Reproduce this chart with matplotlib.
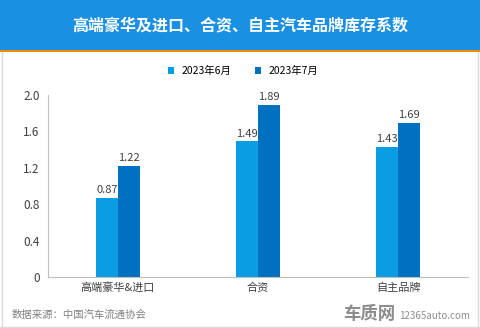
import matplotlib.pyplot as plt
from matplotlib.patches import Rectangle
from matplotlib.lines import Line2D

plt.rcParams['font.family'] = ['Noto Sans CJK SC', 'DejaVu Sans']

categories = ['高端豪华&进口', '合资', '自主品牌']
series_names = ['2023年6月', '2023年7月']
june = [0.87, 1.49, 1.43]
july = [1.22, 1.89, 1.69]
yticks = [0, 0.4, 0.8, 1.2, 1.6, 2.0]
ytick_labels = ['0', '0.4', '0.8', '1.2', '1.6', '2.0']

c_june = '#0a9de3'
c_july = '#0070c0'

fig = plt.figure(figsize=(4.8, 3.28), dpi=100)
fig.patch.set_facecolor('white')

# header band with orange underline
fig.patches.append(Rectangle((0, 1 - 50 / 328), 1, 50 / 328, transform=fig.transFigure,
                             facecolor='#1a90e2', edgecolor='none', zorder=0))
fig.patches.append(Rectangle((0, 1 - 52 / 328), 1, 2.5 / 328, transform=fig.transFigure,
                             facecolor='#f28a00', edgecolor='none', zorder=1))
fig.text(0.5, 1 - 25 / 328, '高端豪华及进口、合资、自主汽车品牌库存系数', ha='center', va='center',
         color='white', fontsize=11.5, fontweight='bold')

# light frame around the body
for xs, ys in [([1.5 / 480, 1.5 / 480], [0, 1 - 52 / 328]),
               ([478 / 480, 478 / 480], [0, 1 - 52 / 328]),
               ([0, 1], [1.5 / 328, 1.5 / 328])]:
    fig.add_artist(Line2D(xs, ys, color='#d9d9d9', lw=1, transform=fig.transFigure))

ax = fig.add_axes([48 / 480, 51 / 328, 420 / 480, 182 / 328])
x = range(len(categories))
w = 0.16
b1 = ax.bar([i - w / 2 for i in x], june, width=w, color=c_june, label=series_names[0])
b2 = ax.bar([i + w / 2 for i in x], july, width=w, color=c_july, label=series_names[1])
for bars in (b1, b2):
    for r in bars:
        ax.text(r.get_x() + r.get_width() / 2, r.get_height() + 0.03, f'{r.get_height():.2f}',
                ha='center', va='bottom', fontsize=8, color='#404040')

ax.set_xlim(-0.5, 2.5)
ax.set_ylim(0, 2.0)
ax.set_yticks(yticks)
ax.set_yticklabels(ytick_labels)
ax.set_xticks(list(x))
ax.set_xticklabels(categories)
ax.tick_params(axis='both', length=0, labelsize=8, colors='#404040')
ax.tick_params(axis='y', pad=6, labelsize=8.5)
ax.tick_params(axis='x', pad=4)
for s in ('top', 'right'):
    ax.spines[s].set_visible(False)
for s in ('left', 'bottom'):
    ax.spines[s].set_color('#bfbfbf')
    ax.spines[s].set_linewidth(0.8)

fig.legend(handles=[b1, b2], labels=series_names, loc='center',
           bbox_to_anchor=(0.5 + 3 / 480, 1 - 71 / 328),
           ncol=2, frameon=False, fontsize=7.5, handlelength=0.6, handleheight=0.6,
           columnspacing=2.2, handletextpad=0.7)

fig.text(12 / 480, 1 - 315 / 328, '数据来源：中国汽车流通协会', ha='left', va='center',
         fontsize=7.5, color='#808080')
fig.text(395 / 480, 1 - 314 / 328, '车质网', ha='right', va='center',
         fontsize=12.5, fontweight='bold', color='#8c8c8c')
fig.text(399 / 480, 1 - 316 / 328, '12365auto.com', ha='left', va='center',
         fontsize=7, color='#8c8c8c')

fig.savefig('out.png', dpi=100)
